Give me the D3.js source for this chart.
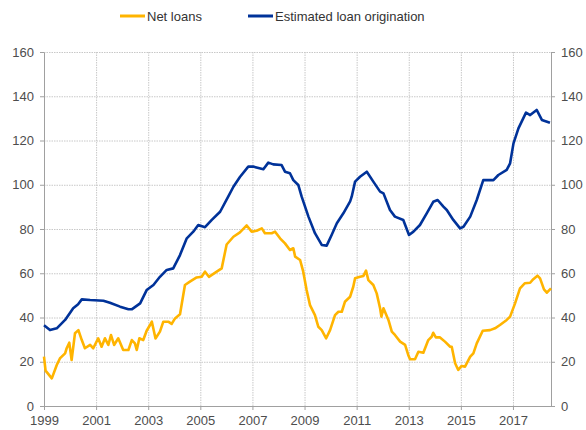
<!DOCTYPE html>
<html>
<head>
<meta charset="utf-8">
<script src="https://cdn.jsdelivr.net/npm/d3@7"></script>
<style>
  html, body { margin: 0; padding: 0; background: #fff; }
  svg { display: block; font-family: "Liberation Sans", Arial, sans-serif; }
</style>
</head>
<body>
<svg id="chart" width="586" height="430"></svg>
<script>
// ---- Data (decimal years, values) ----
const seriesNames = ["Net loans", "Estimated loan origination"];
const seriesColors = ["#FFB400", "#003299"];

const netLoansDates = [1999.00,1999.06,1999.30,1999.49,1999.61,1999.81,1999.87,1999.97,2000.06,2000.19,2000.32,2000.45,2000.57,2000.77,2000.89,2001.08,2001.21,2001.34,2001.47,2001.57,2001.69,2001.85,2002.04,2002.24,2002.37,2002.49,2002.56,2002.66,2002.81,2002.94,2003.07,2003.14,2003.28,2003.45,2003.58,2003.77,2003.90,2004.03,2004.22,2004.41,2004.60,2004.86,2005.05,2005.18,2005.33,2005.63,2005.82,2006.01,2006.27,2006.52,2006.78,2006.97,2007.16,2007.36,2007.48,2007.74,2007.87,2008.06,2008.25,2008.44,2008.57,2008.64,2008.83,2008.95,2009.08,2009.21,2009.40,2009.53,2009.66,2009.83,2009.98,2010.17,2010.30,2010.43,2010.55,2010.75,2010.87,2010.94,2011.13,2011.26,2011.36,2011.45,2011.64,2011.77,2011.90,2011.95,2012.03,2012.22,2012.35,2012.47,2012.67,2012.86,2012.98,2013.05,2013.24,2013.37,2013.56,2013.75,2013.88,2013.94,2014.04,2014.20,2014.39,2014.59,2014.65,2014.78,2014.90,2015.03,2015.16,2015.36,2015.48,2015.61,2015.84,2016.12,2016.31,2016.50,2016.76,2016.89,2017.08,2017.27,2017.46,2017.66,2017.78,2017.94,2018.04,2018.19,2018.30,2018.46];
const netLoansValues = [22.3,16.0,12.5,18.5,21.5,23.8,26.1,28.6,20.8,32.9,34.3,29.8,26.1,27.6,26.1,30.6,26.8,30.6,27.6,32.1,27.6,30.6,25.3,25.3,29.8,28.3,25.3,30.6,29.8,34.0,36.6,38.1,30.5,33.6,38.1,38.1,37.1,39.6,41.5,54.7,56.2,58.1,58.4,60.7,58.4,60.7,62.2,73.0,76.5,78.5,81.6,78.8,79.2,80.3,78.1,78.1,78.8,75.8,73.5,70.5,71.3,67.5,66.0,60.7,52.4,45.6,41.1,35.8,34.3,30.6,34.3,41.1,42.6,42.6,47.1,49.4,53.9,57.7,58.4,58.8,61.2,56.9,54.7,50.9,44.2,40.4,44.2,38.9,33.6,32.1,29.1,27.6,23.1,21.1,21.1,24.5,24.1,29.8,31.3,33.1,31.0,31.0,29.1,26.8,26.8,19.3,16.3,18.1,17.8,22.3,23.8,28.3,34.0,34.3,35.1,36.6,38.9,40.4,46.4,53.2,55.5,55.7,57.3,58.9,57.7,52.7,51.2,53.2];

const originationDates = [1999.00,1999.23,1999.49,1999.81,2000.12,2000.31,2000.45,2000.77,2001.28,2001.53,2001.92,2002.24,2002.38,2002.69,2002.94,2003.20,2003.45,2003.71,2003.96,2004.22,2004.48,2004.73,2004.92,2005.18,2005.44,2005.76,2006.07,2006.27,2006.52,2006.84,2007.03,2007.42,2007.61,2007.80,2008.12,2008.25,2008.44,2008.57,2008.76,2008.89,2009.15,2009.40,2009.66,2009.85,2010.04,2010.24,2010.49,2010.75,2010.81,2010.94,2011.13,2011.39,2011.64,2011.90,2012.03,2012.28,2012.47,2012.79,2013.01,2013.18,2013.43,2013.69,2013.94,2014.11,2014.33,2014.46,2014.71,2014.97,2015.10,2015.36,2015.61,2015.86,2016.25,2016.44,2016.76,2016.89,2017.02,2017.21,2017.50,2017.66,2017.91,2018.11,2018.42];
const originationValues = [36.5,34.3,35.1,38.9,44.2,46.0,48.2,47.9,47.6,46.7,44.9,43.7,43.8,46.4,52.4,54.7,58.4,61.5,62.2,68.2,75.8,78.8,81.8,80.8,84.1,87.8,94.6,99.1,103.5,108.2,108.2,107.0,110.0,109.2,108.9,105.9,105.2,102.1,99.9,94.6,85.6,78.1,72.8,72.5,77.3,82.6,87.1,92.5,94.6,101.4,103.6,105.9,101.4,96.9,96.1,88.6,85.6,84.1,77.3,78.8,81.8,87.1,92.3,93.1,90.1,88.6,84.1,80.3,81.0,85.6,93.1,102.1,102.1,104.4,106.7,109.7,118.7,125.5,132.6,131.5,133.8,129.3,128.0];

const xTickYears = [1999,2001,2003,2005,2007,2009,2011,2013,2015,2017];
const yTicks = [0,20,40,60,80,100,120,140,160];
const xDomain = [1999, 2018.46];
const yDomain = [0, 160];

// ---- Layout ----
const svg = d3.select("#chart");
const margin = {left: 44, right: 35, top: 52, bottom: 24};
const W = 586, H = 430;
const x = d3.scaleLinear().domain(xDomain).range([margin.left, W - margin.right]);
const y = d3.scaleLinear().domain(yDomain).range([H - margin.bottom, margin.top]);

const gridColor = "#c8c8c8";
const axisColor = "#a0a0a0";
const textColor = "#4d4d4d";
const fontFam = "Liberation Sans, Arial, sans-serif";

// Horizontal gridlines
svg.append("g")
  .attr("transform", `translate(${margin.left},0)`)
  .call(d3.axisLeft(y).tickValues(yTicks).tickSize(-(W - margin.left - margin.right)).tickFormat(""))
  .call(g => g.select(".domain").remove())
  .call(g => g.selectAll("line").attr("stroke", gridColor).attr("stroke-dasharray", "1.5,1"));

// Vertical gridlines
svg.append("g")
  .attr("transform", `translate(0,${margin.top})`)
  .call(d3.axisTop(x).tickValues(xTickYears.slice(1)).tickSize(-(H - margin.top - margin.bottom)).tickFormat(""))
  .call(g => g.select(".domain").remove())
  .call(g => g.selectAll("line").attr("stroke", gridColor).attr("stroke-dasharray", "1.5,1"));

// Left axis
svg.append("g")
  .attr("transform", `translate(${margin.left},0)`)
  .call(d3.axisLeft(y).tickValues(yTicks).tickSize(4).tickPadding(6).tickSizeOuter(0))
  .call(g => g.select(".domain").attr("stroke", axisColor))
  .call(g => g.selectAll("line").attr("stroke", axisColor))
  .call(g => g.selectAll("text").attr("fill", textColor).style("font-size", "13px").style("font-family", fontFam));

// Right axis
svg.append("g")
  .attr("transform", `translate(${W - margin.right},0)`)
  .call(d3.axisRight(y).tickValues(yTicks).tickSize(4).tickPadding(6).tickSizeOuter(0))
  .call(g => g.select(".domain").attr("stroke", axisColor))
  .call(g => g.selectAll("line").attr("stroke", axisColor))
  .call(g => g.selectAll("text").attr("fill", textColor).style("font-size", "13px").style("font-family", fontFam));

// Bottom axis
svg.append("g")
  .attr("transform", `translate(0,${H - margin.bottom})`)
  .call(d3.axisBottom(x).tickValues(xTickYears).tickFormat(d3.format("d")).tickSize(4).tickPadding(6).tickSizeOuter(0))
  .call(g => g.select(".domain").attr("stroke", axisColor))
  .call(g => g.selectAll("line").attr("stroke", axisColor))
  .call(g => g.selectAll("text").attr("fill", textColor).style("font-size", "13px").style("font-family", fontFam));

// Lines
const line = d3.line().x(d => x(d[0])).y(d => y(d[1]));
const netLoans = d3.zip(netLoansDates, netLoansValues);
const origination = d3.zip(originationDates, originationValues);

svg.append("path").datum(netLoans)
  .attr("fill", "none").attr("stroke", seriesColors[0]).attr("stroke-width", 2.6)
  .attr("stroke-linejoin", "round").attr("d", line);
svg.append("path").datum(origination)
  .attr("fill", "none").attr("stroke", seriesColors[1]).attr("stroke-width", 2.6)
  .attr("stroke-linejoin", "round").attr("d", line);

// Legend
const legendX = [120, 248];
const legend = svg.append("g");
seriesNames.forEach((name, i) => {
  legend.append("line")
    .attr("x1", legendX[i]).attr("x2", legendX[i] + 25)
    .attr("y1", 16).attr("y2", 16)
    .attr("stroke", seriesColors[i]).attr("stroke-width", 3);
  legend.append("text")
    .attr("x", legendX[i] + 27).attr("y", 20.5)
    .attr("fill", "#333").style("font-size", "13px").style("font-family", fontFam)
    .text(name);
});
</script>
</body>
</html>
